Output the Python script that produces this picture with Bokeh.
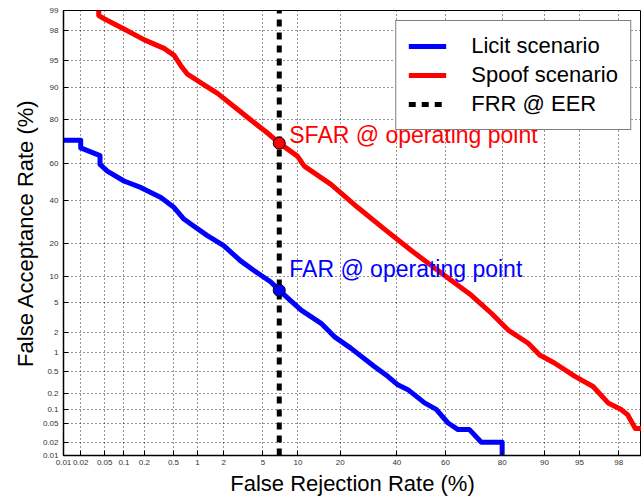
import numpy as np
from bokeh.plotting import figure
from bokeh.models import FixedTicker, Range1d, Legend, LegendItem
from bokeh.core.properties import value
from bokeh.embed import file_html
from bokeh.resources import INLINE

# ---------------- data (percent) ----------------
tick_pct = [0.01, 0.02, 0.05, 0.1, 0.2, 0.5, 1, 2, 5, 10, 20, 40, 60, 80, 90, 95, 98, 99]
tick_labels = ["0.01", "0.02", "0.05", "0.1", "0.2", "0.5", "1", "2", "5", "10", "20",
               "40", "60", "80", "90", "95", "98", "99"]
x_limits = [0.01, 98.9]
y_limits = [0.01, 99.0]

licit_frr = [0.01, 0.02, 0.02, 0.042, 0.042, 0.055, 0.1, 0.18, 0.34, 0.51, 0.68, 0.83,
             1.31, 2.0, 3.0, 4.1, 5.9, 7.0, 10.6, 14.9, 18.3, 23.3, 31.3, 36.4, 40.4,
             44.5, 51.4, 56.2, 60.9, 64.9, 69.2, 73.4, 80.0, 80.0]
licit_far = [71.3, 71.3, 67.7, 63.9, 59.3, 55.7, 50.4, 46.8, 41.5, 36.3, 30.6, 28.3,
             23.2, 19.3, 14.2, 11.4, 8.66, 7.0, 4.05, 2.72, 1.77, 1.18, 0.605, 0.41, 0.29,
             0.237, 0.133, 0.099, 0.053, 0.038, 0.038, 0.02, 0.02, 0.01]

spoof_frr = [0.040, 0.040, 0.049, 0.1, 0.2, 0.375, 0.51, 0.62, 0.755, 1.2, 1.71, 2.6,
             3.8, 5.5, 7.0, 9.9, 11.2, 17.4, 25.5, 35.1, 45.9, 56.9, 69.9, 76.7, 81.7,
             86.7, 89.1, 91.7, 94.5, 96.3, 97.4, 98.1, 98.4, 98.7, 99.0]
spoof_sfar = [99.0, 98.8, 98.66, 98.1, 97.3, 96.5, 95.7, 94.3, 92.8, 90.6, 88.5, 84.6,
              80.0, 74.6, 70.0, 63.6, 58.4, 48.6, 36.3, 26.0, 17.5, 11.4, 6.15, 3.7, 2.2,
              1.41, 0.93, 0.69, 0.41, 0.27, 0.133, 0.1, 0.078, 0.04, 0.04]

frr_eer = 7.0
far_op = 7.0
sfar_op = 70.0


# ---------------- normal-deviate (probit) scale ----------------
def _ppf1(p):
    a = [-3.969683028665376e+01, 2.209460984245205e+02, -2.759285104469687e+02,
         1.383577518672690e+02, -3.066479806614716e+01, 2.506628277459239e+00]
    b = [-5.447609879822406e+01, 1.615858368580409e+02, -1.556989798598866e+02,
         6.680131188771972e+01, -1.328068155288572e+01]
    c = [-7.784894002430293e-03, -3.223964580411365e-01, -2.400758277161838e+00,
         -2.549732539343734e+00, 4.374664141464968e+00, 2.938163982698783e+00]
    d = [7.784695709041462e-03, 3.224671290700398e-01, 2.445134137142996e+00,
         3.754408661907416e+00]
    plow = 0.02425
    if p < plow:
        q = np.sqrt(-2 * np.log(p))
        return (((((c[0]*q+c[1])*q+c[2])*q+c[3])*q+c[4])*q+c[5]) / \
               ((((d[0]*q+d[1])*q+d[2])*q+d[3])*q+1)
    if p > 1 - plow:
        q = np.sqrt(-2 * np.log(1 - p))
        return -(((((c[0]*q+c[1])*q+c[2])*q+c[3])*q+c[4])*q+c[5]) / \
                ((((d[0]*q+d[1])*q+d[2])*q+d[3])*q+1)
    q = p - 0.5
    r = q * q
    return (((((a[0]*r+a[1])*r+a[2])*r+a[3])*r+a[4])*r+a[5])*q / \
           (((((b[0]*r+b[1])*r+b[2])*r+b[3])*r+b[4])*r+1)


def probit(pct):
    return [float(_ppf1(v / 100.0)) for v in pct]


xl = probit(x_limits)
yl = probit(y_limits)

# keep only ticks inside each axis' range
x_ticks = [t for t in probit(tick_pct) if xl[0] - 1e-9 <= t <= xl[1] + 1e-9]
y_ticks = [t for t in probit(tick_pct) if yl[0] - 1e-9 <= t <= yl[1] + 1e-9]
overrides = {t: lab for t, lab in zip(probit(tick_pct), tick_labels)}
x_ticker = FixedTicker(ticks=x_ticks, minor_ticks=[])
y_ticker = FixedTicker(ticks=y_ticks, minor_ticks=[])

FONT = "Liberation Sans"

p = figure(width=641, height=498, output_backend="svg", toolbar_location=None,
           x_range=Range1d(xl[0], xl[1]), y_range=Range1d(yl[0], yl[1]),
           min_border_left=63, min_border_right=0, min_border_top=10,
           background_fill_color="white", border_fill_color="white")

p.outline_line_color = "black"
p.outline_line_width = 1

for ax, tk in ((p.xaxis[0], x_ticker), (p.yaxis[0], y_ticker)):
    ax.ticker = tk
    ax.major_label_overrides = overrides
    ax.major_label_text_font = FONT
    ax.major_label_text_font_size = "8px"
    ax.major_label_text_color = "#333333"
    ax.major_tick_in = 5
    ax.major_tick_out = 0
    ax.minor_tick_line_color = None
    ax.axis_line_color = "black"
    ax.axis_line_width = 1.5
    ax.major_tick_line_color = "black"
    ax.axis_label_text_font = FONT
    ax.axis_label_text_font_size = "22px"
    ax.axis_label_text_font_style = "normal"
    ax.axis_label_text_color = "black"

p.xaxis.axis_label = "False Rejection Rate (%)"
p.yaxis.axis_label = "False Acceptance Rate (%)"
p.xaxis.major_label_standoff = 4
p.xaxis.axis_label_standoff = 3
p.yaxis.major_label_standoff = 5
p.yaxis.axis_label_standoff = 2

p.xgrid[0].ticker = x_ticker
p.ygrid[0].ticker = y_ticker
for g in (p.xgrid[0], p.ygrid[0]):
    g.grid_line_color = "black"
    g.grid_line_alpha = 0.85
    g.grid_line_dash = "1 3"
    g.grid_line_width = 1

# FRR @ EER vertical dashed line
r_eer = p.line(probit([frr_eer, frr_eer]), probit(y_limits), line_color="black",
               line_width=5, line_dash="7 6")

r_licit = p.line(probit(licit_frr), probit(licit_far), line_color="#0000ff",
                 line_width=5, line_join="round")
r_spoof = p.line(probit(spoof_frr), probit(spoof_sfar), line_color="#ff0000",
                 line_width=5, line_join="round")

p.scatter(probit([frr_eer]), probit([far_op]), size=12, fill_color="#0000ff",
          line_color="black", line_width=1)
p.scatter(probit([frr_eer]), probit([sfar_op]), size=12, fill_color="#ff0000",
          line_color="black", line_width=1)

p.text(probit([frr_eer]), probit([sfar_op]), text=["SFAR @ operating point"],
       text_color="#ff0000", text_font=value(FONT), text_font_size="23px",
       text_baseline="middle", text_align="left", x_offset=10, y_offset=-8)
p.text(probit([frr_eer]), probit([far_op]), text=["FAR @ operating point"],
       text_color="#0000ff", text_font=value(FONT), text_font_size="23px",
       text_baseline="middle", text_align="left", x_offset=10, y_offset=-21)

legend = Legend(items=[LegendItem(label="Licit scenario", renderers=[r_licit]),
                       LegendItem(label="Spoof scenario", renderers=[r_spoof]),
                       LegendItem(label="FRR @ EER", renderers=[r_eer])],
                location="top_right")
legend.label_text_font = FONT
legend.label_text_font_size = "22px"
legend.label_text_color = "black"
legend.glyph_width = 38
legend.glyph_height = 20
legend.label_standoff = 25
legend.padding = 12
legend.spacing = 3
legend.margin = 10
legend.border_line_color = "black"
legend.border_line_width = 1
legend.background_fill_color = "white"
legend.background_fill_alpha = 1.0
p.add_layout(legend)

open("out.html", "w").write(file_html(p, INLINE))
